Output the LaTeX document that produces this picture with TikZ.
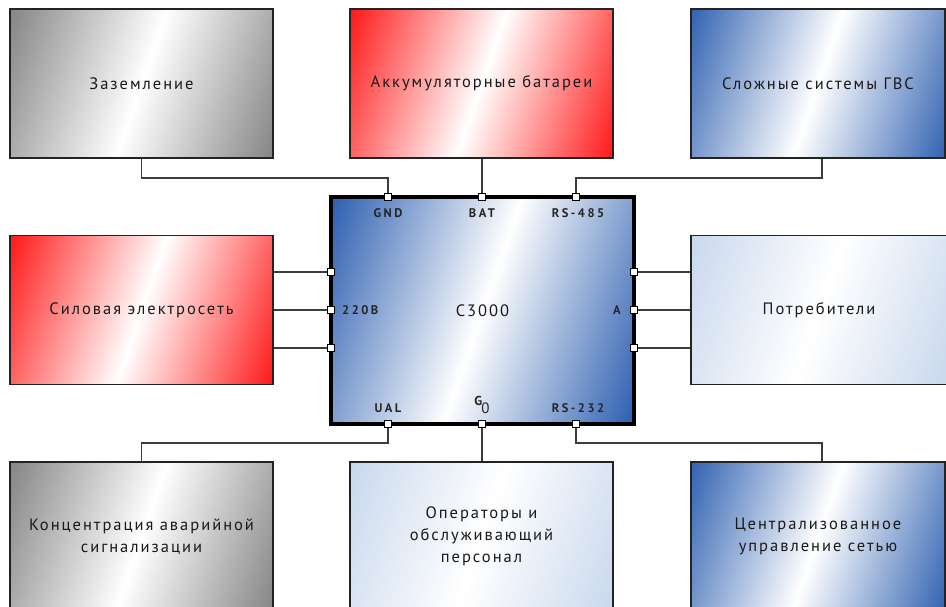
\documentclass[tikz,border=0pt]{standalone}
\usepackage{fontspec}
\setmainfont[LetterSpace=12]{PT Sans}
\newfontfamily\portfont[LetterSpace=20]{PT Sans}
\usetikzlibrary{backgrounds}
\definecolor{redC}{RGB}{255,0,0}
\definecolor{grayC}{RGB}{120,120,120}
\definecolor{blueC}{RGB}{28,82,170}
\definecolor{lightC}{RGB}{195,212,235}
\definecolor{lineC}{RGB}{60,60,60}
\definecolor{borderC}{RGB}{35,35,35}
\pgfdeclareverticalshading{redsh}{100bp}{color(0bp)=(redC); color(15bp)=(redC); color(50bp)=(white); color(85bp)=(redC); color(100bp)=(redC)}
\pgfdeclareverticalshading{graysh}{100bp}{color(0bp)=(grayC); color(15bp)=(grayC); color(50bp)=(white); color(85bp)=(grayC); color(100bp)=(grayC)}
\pgfdeclareverticalshading{bluesh}{100bp}{color(0bp)=(blueC); color(15bp)=(blueC); color(50bp)=(white); color(85bp)=(blueC); color(100bp)=(blueC)}
\pgfdeclareverticalshading{lightsh}{100bp}{color(0bp)=(lightC); color(15bp)=(lightC); color(50bp)=(white); color(85bp)=(lightC); color(100bp)=(lightC)}
\pgfdeclareverticalshading{centersh}{100bp}{color(0bp)=(blueC); color(16bp)=(blueC); color(50bp)=(white); color(84bp)=(blueC); color(100bp)=(blueC)}
\tikzset{
  blk/.style={draw=borderC, line width=1.5pt, minimum width=263pt, minimum height=149pt,
    inner sep=0pt, align=center, font=\fontsize{16.5}{22}\selectfont, text=black!90},
  shadeblk/.style={shading=#1, shading angle=71},
  port/.style={draw=black, fill=white, line width=0.8pt, minimum size=7pt, inner sep=0pt},
  plabel/.style={font=\portfont\fontsize{12.5}{12.5}\selectfont\bfseries, text=black!85, inner sep=0pt},
  conn/.style={draw=lineC, line width=1.2pt},
}
\begin{document}
\begin{tikzpicture}[x=1pt,y=-1pt]
\useasboundingbox (0,0) rectangle (946,607);
% outer blocks
\node[blk, shadeblk=graysh] (zaz) at (141.5,83.5) {Заземление};
\node[blk, shadeblk=redsh] (akk) at (481.5,83.5) {Аккумуляторные батареи};
\node[blk, shadeblk=bluesh, minimum width=254pt] (gvs) at (818,83.5) {Сложные системы ГВС};
\node[blk, shadeblk=redsh] (sil) at (141.5,310) {Силовая электросеть};
\node[blk, shadeblk=lightsh, minimum width=256pt] (potr) at (819,310) {Потребители};
\node[blk, shadeblk=graysh] (konc) at (141.5,536.5) {Концентрация аварийной\\сигнализации};
\node[blk, shadeblk=lightsh] (oper) at (481.5,536.5) {Операторы и\\обслуживающий\\персонал};
\node[blk, shadeblk=bluesh, minimum width=254pt] (centr) at (818,536.5) {Централизованное\\управление сетью};
% central block
\node[draw=black, line width=4pt, minimum width=303pt, minimum height=227pt, inner sep=0pt,
  shadeblk=centersh, font=\fontsize{16.5}{22}\selectfont, text=black!90] (c) at (482.5,310.5) {С3000};
% ports
\node[port] (pgnd) at (388,197) {};
\node[port] (pbat) at (482,197) {};
\node[port] (p485) at (576,197) {};
\node[port] (pual) at (388,424) {};
\node[port] (pg0) at (482,424) {};
\node[port] (p232) at (576,424) {};
\node[port] (pl1) at (331,272) {};
\node[port] (pl2) at (331,310) {};
\node[port] (pl3) at (331,348) {};
\node[port] (pr1) at (634,272) {};
\node[port] (pr2) at (634,310) {};
\node[port] (pr3) at (634,348) {};
% port labels
\node[plabel] (lgnd) at (388,213) {GND};
\node[plabel] (lbat) at (482,213) {BAT};
\node[plabel] (l485) at (578,213) {RS-485};
\node[plabel] (lual) at (388,408) {UAL};
\node[plabel] (lg0) at (482,405) {\raisebox{8pt}{\fontsize{13}{13}\selectfont G}\hspace{-1pt}{\normalfont\fontsize{15}{15}\selectfont 0}};
\node[plabel] (l232) at (578,408) {RS-232};
\node[plabel, anchor=west] (l220) at (342,310) {220В};
\node[plabel, anchor=east] (la) at (621,310) {A};
% connectors
\coordinate (ytop) at (0,178);
\coordinate (ybot) at (0,443);
\begin{pgfonlayer}{background}
\draw[conn] (pgnd.center) -- (pgnd |- ytop) -| (zaz.south);
\draw[conn] (pbat.center) -- (pbat |- akk.south);
\draw[conn] (p485.center) -- (p485 |- ytop) -| ([xshift=4pt]gvs.south);
\draw[conn] (pual.center) -- (pual |- ybot) -| (konc.north);
\draw[conn] (pg0.center) -- (pg0 |- oper.north);
\draw[conn] (p232.center) -- (p232 |- ybot) -| ([xshift=4pt]centr.north);
\draw[conn] (pl1.center) -- (pl1 -| sil.east);
\draw[conn] (pl2.center) -- (pl2 -| sil.east);
\draw[conn] (pl3.center) -- (pl3 -| sil.east);
\draw[conn] (pr1.center) -- (pr1 -| potr.west);
\draw[conn] (pr2.center) -- (pr2 -| potr.west);
\draw[conn] (pr3.center) -- (pr3 -| potr.west);
\end{pgfonlayer}
\end{tikzpicture}
\end{document}
